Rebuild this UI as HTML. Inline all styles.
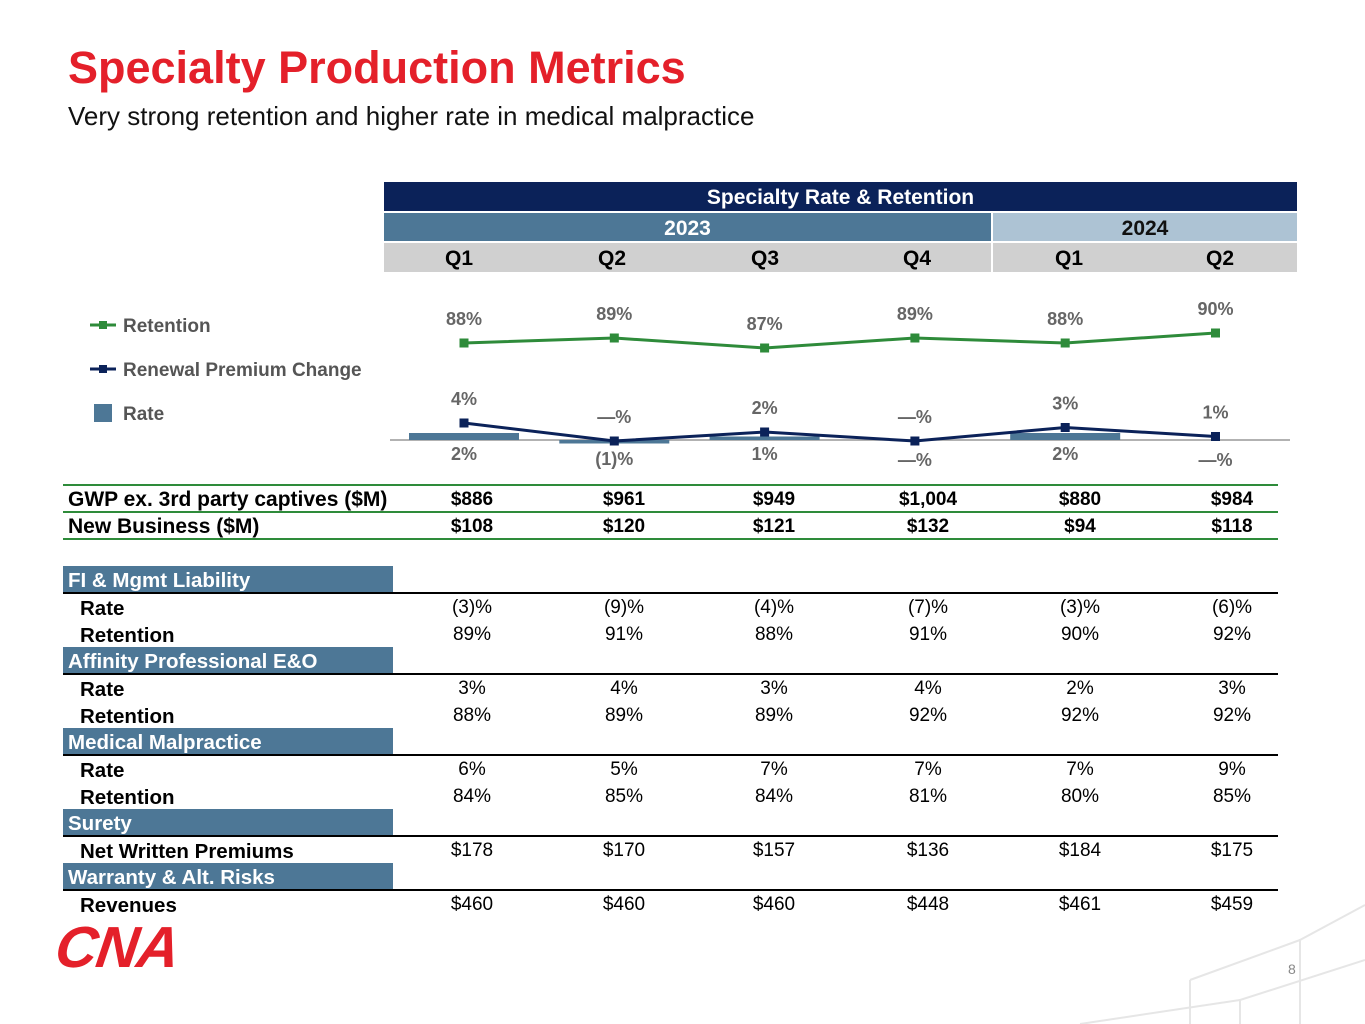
<!DOCTYPE html>
<html><head><meta charset="utf-8">
<style>
body{margin:0;width:1365px;height:1024px;position:relative;background:#fff;font-family:"Liberation Sans",Arial,sans-serif;overflow:hidden}
.a{position:absolute;white-space:nowrap}
.c{position:absolute;transform:translateX(-50%);white-space:nowrap}
.b{font-weight:bold}
.sec{position:absolute;left:63px;width:330px;height:27px;background:#4d7796;color:#fff;font-weight:bold;font-size:20.5px;line-height:29px;padding-left:5px;box-sizing:border-box}
.rule{position:absolute;left:63px;width:1215px;height:2px;background:#000}
.lab{position:absolute;left:80px;font-weight:bold;font-size:20.5px}
.v{position:absolute;transform:translateX(-50%);font-size:19px}
</style></head><body>
<div class="a b" style="left:68px;top:42px;font-size:45px;color:#e4202a">Specialty Production Metrics</div>
<div class="a" style="left:68px;top:101px;font-size:26px;color:#111">Very strong retention and higher rate in medical malpractice</div>

<div class="a b" style="left:384px;top:182px;width:913px;height:29px;background:#0b2259;color:#fff;text-align:center;font-size:21px;line-height:32px">Specialty Rate &amp; Retention</div>
<div class="a b" style="left:384px;top:213px;width:607px;height:28px;background:#4d7796;color:#fff;text-align:center;font-size:21px;line-height:31px">2023</div>
<div class="a b" style="left:993px;top:213px;width:304px;height:28px;background:#adc3d4;color:#111;text-align:center;font-size:21px;line-height:31px">2024</div>
<div class="a" style="left:384px;top:243px;width:913px;height:29px;background:#d0d0d0"></div>
<div class="a" style="left:991px;top:243px;width:2px;height:29px;background:#fff"></div>
<div class="c b" style="left:459px;top:247px;font-size:21px">Q1</div>
<div class="c b" style="left:612px;top:247px;font-size:21px">Q2</div>
<div class="c b" style="left:765px;top:247px;font-size:21px">Q3</div>
<div class="c b" style="left:917px;top:247px;font-size:21px">Q4</div>
<div class="c b" style="left:1069px;top:247px;font-size:21px">Q1</div>
<div class="c b" style="left:1220px;top:247px;font-size:21px">Q2</div>

<svg class="a" style="left:0;top:0" width="1365" height="480">
<g font-family="Liberation Sans, Arial, sans-serif" font-weight="bold" font-size="19" fill="#555">
<line x1="90" y1="325" x2="116" y2="325" stroke="#2e8b3a" stroke-width="3"/><rect x="99" y="321" width="8" height="8" fill="#2e8b3a"/><text x="123" y="332">Retention</text>
<line x1="90" y1="369" x2="116" y2="369" stroke="#0b2259" stroke-width="3"/><rect x="99" y="365" width="8" height="8" fill="#0b2259"/><text x="123" y="376">Renewal Premium Change</text>
<rect x="94" y="404" width="18" height="18" fill="#4d7796"/><text x="123" y="420">Rate</text>
</g>
<line x1="390" y1="440" x2="1290" y2="440" stroke="#999" stroke-width="1.5"/>
<g id="marks"></g>
</svg>
<script>
const categories=["Q1 2023","Q2 2023","Q3 2023","Q4 2023","Q1 2024","Q2 2024"];
const retention=[88,89,87,89,88,90];
const renewalChange=[4,0,2,0,3,1];
const rate=[2,-1,1,0,2,0];
const retentionLabels=["88%","89%","87%","89%","88%","90%"];
const renewalLabels=["4%","—%","2%","—%","3%","1%"];
const rateLabels=["2%","(1)%","1%","—%","2%","—%"];
const NS="http://www.w3.org/2000/svg";
const g=document.getElementById('marks');
function xPos(i){return 464+i*150.3;}
function yRet(v){return 343-(v-88)*5;}
function yRen(v){return 441-v*4.5;}
function yRate(v){return 440-v*3.5;}
function mk(t,a){const e=document.createElementNS(NS,t);for(const k in a)e.setAttribute(k,a[k]);g.appendChild(e);return e;}
rate.forEach((v,i)=>{
 const y0=yRate(0),y1=yRate(v);
 const r=mk('rect',{x:xPos(i)-55,y:Math.min(y0,y1),width:110,height:Math.max(Math.abs(y1-y0),0.01),fill:'#4d7796'});
 
 
 const t=mk('text',{x:xPos(i),y:460+(v<0?5:0)+(v===0?6:0),'text-anchor':'middle','font-size':18,'font-weight':'bold',fill:'#666','font-family':'Liberation Sans, Arial, sans-serif'});
 t.textContent=rateLabels[i];
 
 
});
function line(vals,yf,color,name,labels,off){
 const p=mk('polyline',{points:vals.map((v,i)=>xPos(i)+','+yf(v)).join(' '),fill:'none',stroke:color,'stroke-width':3});
 
 
 vals.forEach((v,i)=>{
  const r=mk('rect',{x:xPos(i)-4.5,y:yf(v)-4.5,width:9,height:9,fill:color});
  
  
  const t=mk('text',{x:xPos(i),y:yf(v)-off,'text-anchor':'middle','font-size':18,'font-weight':'bold',fill:'#666','font-family':'Liberation Sans, Arial, sans-serif'});
  t.textContent=labels[i];
  
  
 });
}
line(retention,yRet,'#2e8b3a','retention',retentionLabels,18);
line(renewalChange,yRen,'#0b2259','renewal',renewalLabels,18);
</script>

<div class="a" style="left:63px;top:484px;width:1215px;height:2px;background:#2e8b3a"></div>
<div class="lab" style="left:68px;top:488px;font-size:21px">GWP ex. 3rd party captives ($M)</div>
<div class="a" style="left:63px;top:511px;width:1215px;height:2px;background:#2e8b3a"></div>
<div class="lab" style="left:68px;top:515px;font-size:21px">New Business ($M)</div>
<div class="a" style="left:63px;top:538px;width:1215px;height:2px;background:#2e8b3a"></div>

<script>
const cols=[472,624,774,928,1080,1232];
const gwp=["$886","$961","$949","$1,004","$880","$984"];
const nb=["$108","$120","$121","$132","$94","$118"];
const sections=[
 ["FI & Mgmt Liability",[["Rate",["(3)%","(9)%","(4)%","(7)%","(3)%","(6)%"]],["Retention",["89%","91%","88%","91%","90%","92%"]]]],
 ["Affinity Professional E&O",[["Rate",["3%","4%","3%","4%","2%","3%"]],["Retention",["88%","89%","89%","92%","92%","92%"]]]],
 ["Medical Malpractice",[["Rate",["6%","5%","7%","7%","7%","9%"]],["Retention",["84%","85%","84%","81%","80%","85%"]]]],
 ["Surety",[["Net Written Premiums",["$178","$170","$157","$136","$184","$175"]]]],
 ["Warranty & Alt. Risks",[["Revenues",["$460","$460","$460","$448","$461","$459"]]]]
];
const body=document.body;
function add(cls,txt,style,name){const d=document.createElement('div');d.className=cls;d.textContent=txt;d.style.cssText=style;


body.appendChild(d);return d;}
[[gwp,489],[nb,516]].forEach(([arr,y])=>arr.forEach((v,i)=>add('v b',v,`left:${cols[i]}px;top:${y}px`,'table-value')));
let y=566;
sections.forEach(([title,rows])=>{
 add('sec',title,`top:${y}px`,'section-header');
 add('rule','',`top:${y+26}px`,'section-rule');
 y+=27;
 rows.forEach(([lab,vals])=>{
  add('lab',lab,`top:${y+4}px`,'row-label');
  vals.forEach((v,i)=>add('v',v,`left:${cols[i]}px;top:${y+4}px`,'table-value'));
  y+=27;
 });
});
</script>

<div class="a" style="left:56px;top:914px;font-size:58px;font-weight:900;font-style:italic;color:#e4202a;letter-spacing:-1px;transform:skewX(-8deg)">CNA</div>
<div class="a" style="left:1288px;top:961px;font-size:14px;color:#888">8</div>
<svg class="a" style="left:1040px;top:880px" width="325" height="144">
<g stroke="#e6e6e6" stroke-width="2" fill="none">
<path d="M325 25 L260 60 L260 144"/><path d="M325 80 L200 120 L200 144"/><path d="M260 60 L150 100"/><path d="M40 144 L200 120"/><path d="M150 100 L150 144"/>
</g></svg>
</body></html>
